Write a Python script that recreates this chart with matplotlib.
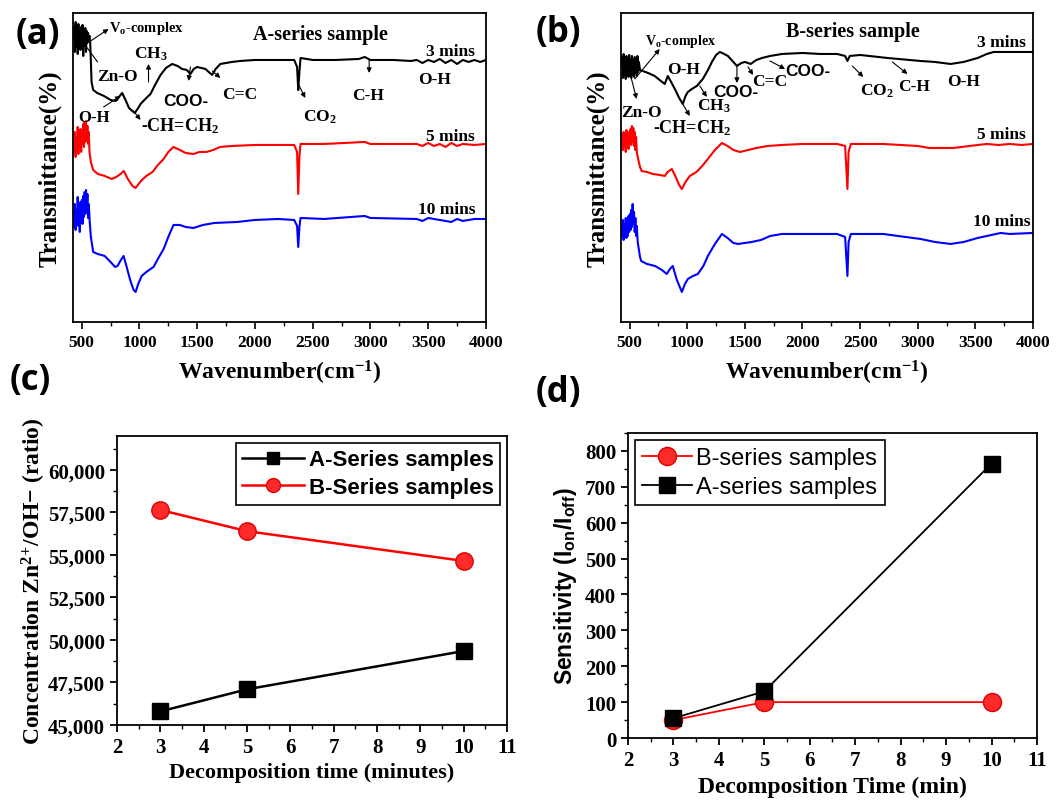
import numpy as np
import matplotlib
matplotlib.use('Agg')
import matplotlib.pyplot as plt
from matplotlib.ticker import MultipleLocator, FuncFormatter

plt.rcParams['font.family'] = ['Liberation Serif', 'DejaVu Sans']
plt.rcParams['font.weight'] = 'bold'
plt.rcParams['axes.labelweight'] = 'bold'
plt.rcParams['mathtext.default'] = 'regular'

# FTIR spectra: (wavenumber, transmittance a.u.)
A3 = [(430, 285), (436, 296), (442, 270), (448, 300), (454, 275), (460, 292), (466, 268), (472, 298),
      (478, 278), (484, 290), (490, 272), (496, 295), (502, 280), (508, 297), (514, 266), (520, 288),
      (526, 276), (532, 294), (538, 270), (544, 291), (550, 279), (556, 289), (562, 283), (568, 286),
      (574, 280), (580, 260), (586, 240), (600, 232), (635, 229), (693, 226), (751, 222), (794, 221),
      (830, 226), (851, 229), (880, 222), (910, 214), (938, 211), (960, 209), (990, 214), (1010, 218),
      (1060, 224), (1096, 228), (1140, 238), (1183, 247), (1230, 254), (1284, 258), (1330, 256),
      (1370, 253), (1410, 252), (1442, 248), (1470, 253), (1500, 255), (1572, 253), (1600, 250),
      (1630, 247), (1660, 253), (1701, 258), (1800, 260), (1874, 261), (2000, 262), (2200, 262),
      (2340, 262), (2365, 255), (2375, 232), (2385, 250), (2395, 264), (2500, 262), (2700, 262),
      (2900, 263), (2950, 265), (3000, 262), (3200, 262), (3350, 261), (3400, 262), (3450, 259),
      (3500, 262), (3550, 260), (3600, 263), (3650, 259), (3700, 262), (3750, 258), (3800, 262),
      (3850, 260), (3900, 262), (3950, 260), (4000, 262)]
A5 = [(430, 180), (436, 170), (442, 190), (448, 165), (454, 185), (460, 172), (466, 195), (472, 168),
      (478, 188), (484, 175), (490, 193), (496, 170), (502, 190), (508, 178), (514, 198), (520, 175),
      (526, 200), (532, 180), (538, 201), (544, 182), (550, 196), (556, 178), (562, 190), (568, 170),
      (580, 160), (600, 152), (640, 148), (700, 146), (760, 143), (800, 145), (837, 148), (865, 151),
      (900, 143), (940, 136), (967, 134), (1000, 139), (1022, 142), (1060, 146), (1114, 150),
      (1160, 157), (1210, 163), (1250, 170), (1295, 175), (1350, 172), (1400, 169), (1468, 168),
      (1520, 170), (1580, 170), (1640, 172), (1700, 175), (1800, 176), (2000, 177), (2200, 177),
      (2340, 177), (2365, 170), (2375, 128), (2385, 165), (2395, 178), (2600, 178), (2950, 180),
      (3000, 178), (3400, 178), (3450, 176), (3500, 179), (3550, 176), (3600, 178), (3650, 175),
      (3700, 179), (3750, 176), (3800, 178), (3900, 177), (4000, 178)]
A10 = [(430, 110), (436, 95), (442, 118), (448, 92), (454, 112), (460, 100), (466, 125), (472, 96),
       (478, 115), (484, 90), (490, 120), (496, 102), (502, 122), (508, 98), (514, 126), (520, 105),
       (526, 130), (532, 108), (538, 132), (544, 110), (550, 128), (556, 104), (562, 118), (570, 100),
       (580, 85), (600, 70), (640, 68), (700, 66), (750, 60), (790, 55), (811, 56), (840, 62),
       (863, 66), (890, 55), (920, 42), (950, 32), (967, 30), (990, 38), (1020, 46), (1060, 50),
       (1122, 55), (1160, 63), (1210, 73), (1250, 85), (1295, 97), (1350, 97), (1400, 95),
       (1468, 94), (1550, 97), (1650, 99), (1848, 100), (2000, 102), (2200, 103), (2340, 102),
       (2365, 96), (2375, 75), (2385, 95), (2395, 104), (2600, 103), (2950, 106), (3000, 104),
       (3400, 103), (3450, 101), (3500, 104), (3600, 102), (3700, 100), (3750, 103), (3800, 101),
       (3900, 103), (4000, 103)]

B3 = [(430, 255), (436, 265), (442, 244), (448, 268), (454, 246), (460, 262), (466, 243), (472, 266),
      (478, 248), (484, 264), (490, 245), (496, 267), (502, 250), (508, 263), (514, 244), (520, 266),
      (526, 247), (532, 262), (538, 245), (544, 265), (550, 249), (556, 262), (562, 246), (568, 266),
      (574, 250), (580, 260), (590, 252), (613, 251), (660, 249), (717, 246), (760, 242), (805, 238),
      (831, 246), (860, 240), (892, 233), (930, 224), (961, 218), (985, 226), (1005, 230),
      (1040, 233), (1083, 236), (1135, 243), (1180, 252), (1214, 260), (1250, 267), (1283, 270),
      (1320, 268), (1353, 266), (1400, 260), (1431, 256), (1470, 259), (1501, 260), (1550, 258),
      (1600, 262), (1649, 264), (1720, 266), (1823, 268), (2000, 269), (2154, 268), (2300, 268),
      (2370, 266), (2390, 261), (2410, 266), (2500, 267), (2737, 264), (3024, 261), (3150, 260),
      (3285, 258), (3398, 260), (3520, 264), (3600, 268), (3659, 270), (3800, 270), (4000, 270)]
B5 = [(430, 178), (436, 188), (442, 172), (448, 190), (454, 175), (460, 186), (466, 170), (472, 192),
      (478, 176), (484, 189), (490, 173), (496, 190), (502, 180), (508, 193), (514, 177), (520, 196),
      (526, 180), (532, 194), (538, 176), (544, 190), (550, 172), (556, 185), (562, 170), (570, 165),
      (590, 155), (604, 151), (650, 150), (700, 148), (760, 147), (805, 146), (830, 150), (866, 153),
      (900, 145), (930, 137), (953, 133), (985, 140), (1022, 146), (1080, 150), (1130, 156),
      (1179, 163), (1240, 172), (1301, 179), (1350, 176), (1400, 172), (1457, 170), (1530, 172),
      (1600, 174), (1700, 176), (1823, 177), (2000, 178), (2300, 178), (2370, 176), (2390, 133),
      (2400, 170), (2420, 178), (2700, 178), (3000, 176), (3100, 174), (3310, 174), (3450, 176),
      (3600, 178), (3700, 177), (3800, 178), (3900, 177), (4000, 178)]
B10 = [(430, 95), (436, 85), (442, 102), (448, 82), (454, 98), (460, 88), (466, 104), (472, 84),
       (478, 100), (484, 86), (490, 106), (496, 90), (502, 108), (508, 92), (514, 112), (520, 95),
       (526, 118), (532, 98), (538, 110), (544, 90), (550, 104), (556, 86), (562, 96), (570, 80),
       (590, 65), (600, 61), (650, 58), (720, 56), (780, 52), (822, 48), (850, 53), (874, 56),
       (910, 42), (953, 30), (980, 38), (1005, 43), (1050, 46), (1092, 48), (1140, 56), (1179, 66),
       (1240, 78), (1301, 88), (1350, 84), (1400, 79), (1440, 78), (1500, 79), (1560, 80),
       (1640, 82), (1720, 86), (1823, 88), (2000, 88), (2300, 88), (2370, 85), (2390, 46),
       (2400, 80), (2420, 88), (2700, 88), (3024, 83), (3150, 80), (3285, 78), (3400, 80),
       (3520, 84), (3600, 86), (3720, 89), (3800, 88), (4000, 89)]

# decomposition time series
times = [3, 5, 10]
conc_A = [45800, 47100, 49350]
conc_B = [57650, 56400, 54650]
sens_B = [50, 100, 100]
sens_A = [55, 130, 765]

fig = plt.figure(figsize=(10.59, 8.03), dpi=100)


def spectrum_axes(rect, spectra, title, notes, arrows):
    ax = fig.add_axes(rect)
    for data, col in spectra:
        d = np.array(data)
        ax.plot(d[:, 0], d[:, 1], color=col, lw=1.5)
    ax.set_xlim(425, 4000)
    ax.set_ylim(0, 309)
    ax.set_yticks([])
    ax.xaxis.set_major_locator(MultipleLocator(500))
    ax.xaxis.set_minor_locator(MultipleLocator(250))
    ax.tick_params(axis='x', labelsize=12.5, length=5, width=1.2)
    ax.tick_params(axis='x', which='minor', length=3, width=1)
    for s in ax.spines.values():
        s.set_linewidth(1.3)
    ax.set_xlabel('Wavenumber(cm$^{-1}$)', fontsize=17, labelpad=6)
    ax.set_ylabel('Transmittance(%)', fontsize=18, labelpad=8)
    ax.text(title[0], title[1], title[2], fontsize=14.5, ha='center', va='center')
    for x, y, s, kw in notes:
        ax.text(x, y, s, va='center', **kw)
    for head, tail, style in arrows:
        ax.annotate('', xy=head, xytext=tail,
                    arrowprops=dict(arrowstyle=style, lw=0.8, color='black', shrinkA=0, shrinkB=0,
                                    mutation_scale=7))
    return ax


sans = {'family': 'Liberation Sans', 'weight': 'bold'}

notes_a = [
    (733, 294, 'V$_o$-complex', dict(fontsize=10.5)),
    (3905, 271, '3 mins', dict(fontsize=12.5, ha='right')),
    (3905, 186, '5 mins', dict(fontsize=12.5, ha='right')),
    (3905, 113, '10 mins', dict(fontsize=12.5, ha='right')),
    (638, 246, 'Zn-O', dict(fontsize=12.5)),
    (950, 269, 'CH$_3$', dict(fontsize=12.5)),
    (1209, 221, 'COO-', dict(fontsize=12.5, **sans)),
    (1719, 228, 'C=C', dict(fontsize=12.5)),
    (2419, 206, 'CO$_2$', dict(fontsize=12.5)),
    (2842, 227, 'C-H', dict(fontsize=12.5)),
    (3410, 243, 'O-H', dict(fontsize=12.5)),
    (474, 205, 'O-H', dict(fontsize=12)),
    (1010, 197, '-CH=CH$_2$', dict(fontsize=13)),
]
arrows_a = [
    ((733, 293), (578, 281), '-|>'),
    ((638, 260), (491, 283), '-'),
    ((1079, 258), (1079, 240), '-|>'),
    ((1425, 241), (1442, 255), '-|>'),
    ((1701, 244), (1632, 251), '-|>'),
    ((837, 226), (690, 215), '-|>'),
    ((1010, 202), (949, 211), '-|>'),
    ((2436, 224), (2375, 238), '-|>'),
    ((2989, 249), (2989, 262), '-|>'),
]
notes_b = [
    (631, 281, 'V$_o$-complex', dict(fontsize=10)),
    (3935, 280, '3 mins', dict(fontsize=12.5, ha='right')),
    (3935, 188, '5 mins', dict(fontsize=12.5, ha='right')),
    (3975, 101, '10 mins', dict(fontsize=12.5, ha='right')),
    (822, 253, 'O-H', dict(fontsize=12.5)),
    (430, 210, 'Zn-O', dict(fontsize=12.5)),
    (700, 195, '-CH=CH$_2$', dict(fontsize=13)),
    (1083, 217, 'CH$_3$', dict(fontsize=12.5)),
    (1225, 230, 'COO-', dict(fontsize=12.5, **sans)),
    (1560, 241, 'C=C', dict(fontsize=12.5)),
    (1849, 251, 'COO-', dict(fontsize=12.5, **sans)),
    (2502, 232, 'CO$_2$', dict(fontsize=12.5)),
    (2832, 236, 'C-H', dict(fontsize=12.5)),
    (3259, 241, 'O-H', dict(fontsize=12.5)),
]
arrows_b = [
    ((761, 273), (544, 243), '-|>'),
    ((561, 223), (500, 250), '-|>'),
    ((1022, 206), (961, 218), '-|>'),
    ((1170, 225), (1109, 236), '-|>'),
    ((1431, 239), (1431, 255), '-|>'),
    ((1571, 247), (1527, 255), '-|>'),
    ((1849, 253), (1718, 261), '-|>'),
    ((2528, 245), (2432, 256), '-|>'),
    ((2911, 248), (2780, 260), '-|>'),
]

spectrum_axes([0.0689, 0.5978, 0.390, 0.3848],
              [(A3, 'black'), (A5, 'red'), (A10, 'blue')],
              (2566, 288, 'A-series sample'), notes_a, arrows_a)
spectrum_axes([0.5864, 0.5978, 0.389, 0.3848],
              [(B3, 'black'), (B5, 'red'), (B10, 'blue')],
              (2441, 291, 'B-series sample'), notes_b, arrows_b)

# (c) concentration ratio
axc = fig.add_axes([0.1105, 0.0959, 0.3683, 0.3599])
axc.plot(times, conc_A, color='black', lw=1.8, marker='s', ms=11, mfc='black', mec='black',
         label='A-Series samples')
axc.plot(times, conc_B, color='red', lw=1.8, marker='o', ms=12.5, mfc='#ff2a2a', mec='#e00000',
         label='B-Series samples')
axc.set_xlim(2, 11)
axc.set_ylim(45000, 62000)
axc.xaxis.set_major_locator(MultipleLocator(1))
axc.xaxis.set_minor_locator(MultipleLocator(0.5))
axc.yaxis.set_major_locator(MultipleLocator(2500))
axc.yaxis.set_minor_locator(MultipleLocator(1250))
axc.yaxis.set_major_formatter(FuncFormatter(lambda v, p: '{:,.0f}'.format(v)))
axc.tick_params(labelsize=15, length=5, width=1.3)
axc.tick_params(which='minor', length=3, width=1)
axc.set_xlabel('Decomposition time (minutes)', fontsize=16)
axc.set_ylabel('Concentration Zn$^{2}$$^{+}$/OH\u2212 (ratio)', fontsize=17, labelpad=0)
for s in axc.spines.values():
    s.set_linewidth(1.3)
legc = axc.legend(loc='upper right', prop={'family': 'Liberation Sans', 'weight': 'bold', 'size': 16},
                  fancybox=False, edgecolor='black', framealpha=1, handlelength=2.8,
                  borderpad=0.3, labelspacing=0.3, handletextpad=0.2, borderaxespad=0.3,
                  markerscale=0.8)
legc.get_frame().set_linewidth(1.2)

# (d) sensitivity
axd = fig.add_axes([0.593, 0.0797, 0.3862, 0.3798])
axd.plot(times, sens_B, color='red', lw=1.3, marker='o', ms=13, mfc='#ff2a2a', mec='#e00000',
         label='B-series samples')
axd.plot(times, sens_A, color='black', lw=1.3, marker='s', ms=11, mfc='black', mec='black',
         label='A-series samples')
axd.set_xlim(2, 11)
axd.set_ylim(0, 850)
axd.xaxis.set_major_locator(MultipleLocator(1))
axd.xaxis.set_minor_locator(MultipleLocator(0.5))
axd.yaxis.set_major_locator(MultipleLocator(100))
axd.yaxis.set_minor_locator(MultipleLocator(50))
axd.tick_params(labelsize=15, length=5, width=1.3)
axd.tick_params(which='minor', length=3, width=1)
axd.set_xlabel('Decomposition Time (min)', fontsize=17)
axd.set_ylabel('Sensitivity (I$_{on}$/I$_{off}$)', fontsize=16.5, family='Liberation Sans',
               weight='bold', labelpad=4)
for s in axd.spines.values():
    s.set_linewidth(1.3)
legd = axd.legend(loc='upper left', prop={'family': 'Liberation Sans', 'weight': 'normal', 'size': 17},
                  fancybox=False, edgecolor='black', framealpha=1, handlelength=2.1,
                  borderpad=0.3, labelspacing=0.3, handletextpad=0.2, borderaxespad=0.3)
legd.get_frame().set_linewidth(1.2)

# panel letters
for x, y, s in [(0.036, 0.957, '(a)'), (0.527, 0.959, '(b)'), (0.029, 0.526, '(c)'),
                (0.527, 0.510, '(d)')]:
    fig.text(x, y, s, fontsize=25, family='Open Sans', weight='bold', ha='center', va='center')

fig.savefig('out.png', dpi=100)
